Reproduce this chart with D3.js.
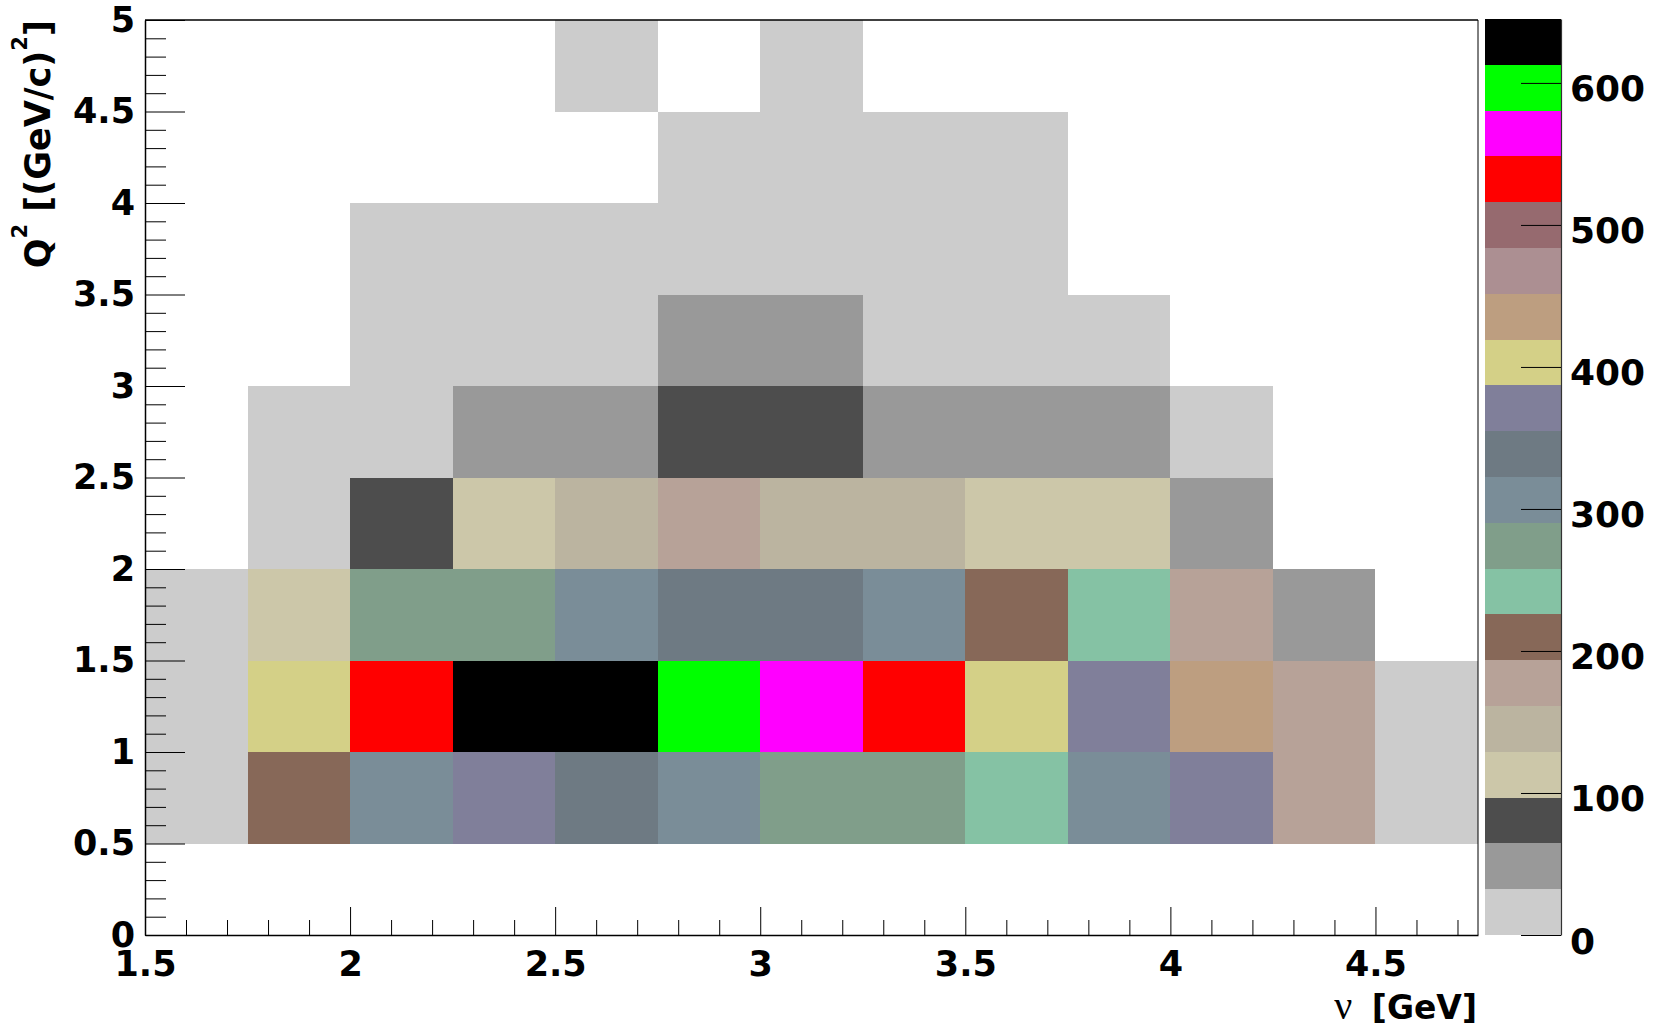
<!DOCTYPE html>
<html>
<head>
<meta charset="utf-8">
<script src="https://cdn.jsdelivr.net/npm/d3@7"></script>
<style>
  html, body { margin: 0; padding: 0; background: #ffffff; }
  svg { display: block; }
</style>
</head>
<body>
<div id="q2-nu-plot"></div>
<script>
// bin edges
const nuEdges = [1.5, 1.75, 2.0, 2.25, 2.5, 2.75, 3.0, 3.25, 3.5, 3.75, 4.0, 4.25, 4.5, 4.75];
const q2Edges = [0, 0.5, 1.0, 1.5, 2.0, 2.5, 3.0, 3.5, 4.0, 4.5, 5.0];

// counts per Q2 bin (one value per nu bin)
const countsQ2_00_05 = [0, 0, 0, 0, 0, 0, 0, 0, 0, 0, 0, 0, 0];
const countsQ2_05_10 = [15, 210, 305, 372, 338, 310, 275, 268, 240, 300, 365, 180, 20];
const countsQ2_10_15 = [22, 405, 535, 645, 632, 598, 566, 530, 400, 370, 440, 175, 18];
const countsQ2_15_20 = [25, 112, 278, 270, 308, 340, 335, 300, 205, 245, 172, 50, 0];
const countsQ2_20_25 = [0, 28, 80, 115, 148, 176, 150, 140, 110, 105, 55, 0, 0];
const countsQ2_25_30 = [0, 20, 30, 52, 45, 82, 78, 50, 48, 40, 15, 0, 0];
const countsQ2_30_35 = [0, 0, 20, 25, 28, 40, 38, 30, 22, 12, 0, 0, 0];
const countsQ2_35_40 = [0, 0, 8, 12, 15, 18, 20, 14, 10, 0, 0, 0, 0];
const countsQ2_40_45 = [0, 0, 0, 0, 0, 8, 10, 6, 5, 0, 0, 0, 0];
const countsQ2_45_50 = [0, 0, 0, 0, 3, 0, 2, 0, 0, 0, 0, 0, 0];

const counts = [
  countsQ2_00_05, countsQ2_05_10, countsQ2_10_15, countsQ2_15_20, countsQ2_20_25,
  countsQ2_25_30, countsQ2_30_35, countsQ2_35_40, countsQ2_40_45, countsQ2_45_50
];

// tick labels
const nuTicks = [1.5, 2, 2.5, 3, 3.5, 4, 4.5];
const q2Ticks = [0, 0.5, 1, 1.5, 2, 2.5, 3, 3.5, 4, 4.5, 5];
const zTicks = [0, 100, 200, 300, 400, 500, 600];

// ROOT-like 20 level palette, low -> high
const palette = [
  "#cccccc", "#999999", "#4d4d4d", "#ccc7a9", "#bbb4a0", "#b7a298", "#876858",
  "#85c2a4", "#809e8a", "#7a8d98", "#6e7a83", "#807f9a", "#d4d087", "#bd9e80",
  "#ac8f92", "#966a6f", "#ff0000", "#ff00ff", "#00ff00", "#000000"
];

const width = 1657;
const height = 1032;
const frame = { left: 145, right: 1478, top: 20, bottom: 935 };
const pal = { left: 1485, right: 1561, top: 19, bottom: 935 };
const labelFont = "'DejaVu Sans', sans-serif";

const svg = d3
  .select("div#q2-nu-plot")
  .append("svg")
  .attr("width", width)
  .attr("height", height)
  .style("background", "#ffffff");

const x = d3.scaleLinear().domain([nuEdges[0], nuEdges[nuEdges.length - 1]]).range([frame.left, frame.right]);
const y = d3.scaleLinear().domain([q2Edges[0], q2Edges[q2Edges.length - 1]]).range([frame.bottom, frame.top]);

const zMax = d3.max(counts.flat());
const z = d3.scaleLinear().domain([0, zMax]).range([pal.bottom, pal.top]);
const color = d3.scaleQuantize().domain([0, zMax]).range(palette);

// flatten the table into cells, empty bins are not drawn
const cells = [];
counts.forEach((row, j) => {
  row.forEach((v, i) => {
    if (v > 0) {
      cells.push({ nu0: nuEdges[i], nu1: nuEdges[i + 1], q0: q2Edges[j], q1: q2Edges[j + 1], v: v });
    }
  });
});

svg
  .append("g")
  .attr("class", "cells")
  .attr("shape-rendering", "crispEdges")
  .selectAll("rect")
  .data(cells)
  .join("rect")
  .attr("x", (d) => x(d.nu0))
  .attr("y", (d) => y(d.q1))
  .attr("width", (d) => x(d.nu1) - x(d.nu0))
  .attr("height", (d) => y(d.q0) - y(d.q1))
  .attr("fill", (d) => color(d.v));

// minor tick positions every 0.1
const nuMinor = d3.range(16, 48).map((i) => i / 10).filter((v) => Math.round(v * 10) % 5 !== 0);
const q2Minor = d3.range(1, 50).map((i) => i / 10).filter((v) => Math.round(v * 10) % 5 !== 0);

// X axis
const xAxis = svg
  .append("g")
  .attr("transform", "translate(0," + frame.bottom + ")")
  .call(
    d3.axisBottom(x)
      .tickValues(nuTicks)
      .tickFormat(d3.format("~g"))
      .tickSize(-28)
      .tickSizeOuter(0)
      .tickPadding(16)
  );
svg
  .append("g")
  .attr("transform", "translate(0," + frame.bottom + ")")
  .call(d3.axisBottom(x).tickValues(nuMinor).tickFormat("").tickSize(-15).tickSizeOuter(0))
  .select(".domain")
  .remove();

// Y axis
const yAxis = svg
  .append("g")
  .attr("transform", "translate(" + frame.left + ",0)")
  .call(
    d3.axisLeft(y)
      .tickValues(q2Ticks)
      .tickFormat(d3.format("~g"))
      .tickSize(-40)
      .tickSizeOuter(0)
      .tickPadding(10)
  );
svg
  .append("g")
  .attr("transform", "translate(" + frame.left + ",0)")
  .call(d3.axisLeft(y).tickValues(q2Minor).tickFormat("").tickSize(-21).tickSizeOuter(0))
  .select(".domain")
  .remove();

[xAxis, yAxis].forEach((ax) => {
  ax.attr("font-family", labelFont).attr("font-size", 35).attr("font-weight", "bold").style("color", "#000");
});
yAxis.selectAll("text").attr("dy", "0.32em");

// frame top / right
svg.append("line")
  .attr("x1", frame.left).attr("x2", frame.right)
  .attr("y1", frame.top).attr("y2", frame.top)
  .attr("stroke", "#000").attr("stroke-width", 1.5);
svg.append("line")
  .attr("x1", frame.right).attr("x2", frame.right)
  .attr("y1", frame.top).attr("y2", frame.bottom)
  .attr("stroke", "#000").attr("stroke-width", 1);

svg.selectAll(".domain").attr("stroke-width", 1.5);

// colour palette
const bandStep = zMax / palette.length;
svg
  .append("g")
  .attr("shape-rendering", "crispEdges")
  .selectAll("rect")
  .data(palette)
  .join("rect")
  .attr("x", pal.left)
  .attr("width", pal.right - pal.left)
  .attr("y", (d, k) => z((k + 1) * bandStep))
  .attr("height", (d, k) => z(k * bandStep) - z((k + 1) * bandStep))
  .attr("fill", (d) => d);

const zAxis = svg
  .append("g")
  .attr("transform", "translate(" + pal.right + ",0)")
  .call(d3.axisRight(z).tickValues(zTicks).tickSize(-40).tickSizeOuter(0).tickPadding(9));
zAxis
  .attr("font-family", labelFont)
  .attr("font-size", 36)
  .attr("font-weight", "bold")
  .style("color", "#000");
zAxis.selectAll("text").attr("dy", "0.5em");
zAxis.select(".domain").attr("stroke", "#333").attr("stroke-width", 1.2);

// axis titles
const xTitle = svg
  .append("text")
  .attr("x", frame.right - 1)
  .attr("y", 1019)
  .attr("text-anchor", "end")
  .attr("font-family", labelFont)
  .attr("font-weight", "bold")
  .attr("font-size", 33);
xTitle.append("tspan")
  .attr("font-family", "'Liberation Serif', serif")
  .attr("font-weight", "normal")
  .attr("font-size", 40)
  .text("ν");
xTitle.append("tspan").attr("dx", 8).text(" [GeV]");

const yTitle = svg
  .append("text")
  .attr("transform", "translate(50," + frame.top + ") rotate(-90)")
  .attr("text-anchor", "end")
  .attr("font-family", labelFont)
  .attr("font-weight", "bold")
  .attr("font-size", 35);
yTitle.append("tspan").text("Q");
yTitle.append("tspan").attr("font-size", 21).attr("dy", -23).text("2");
yTitle.append("tspan").attr("dy", 23).text(" [(GeV/c)");
yTitle.append("tspan").attr("font-size", 21).attr("dy", -23).text("2");
yTitle.append("tspan").attr("dy", 23).text("]");
</script>
</body>
</html>
